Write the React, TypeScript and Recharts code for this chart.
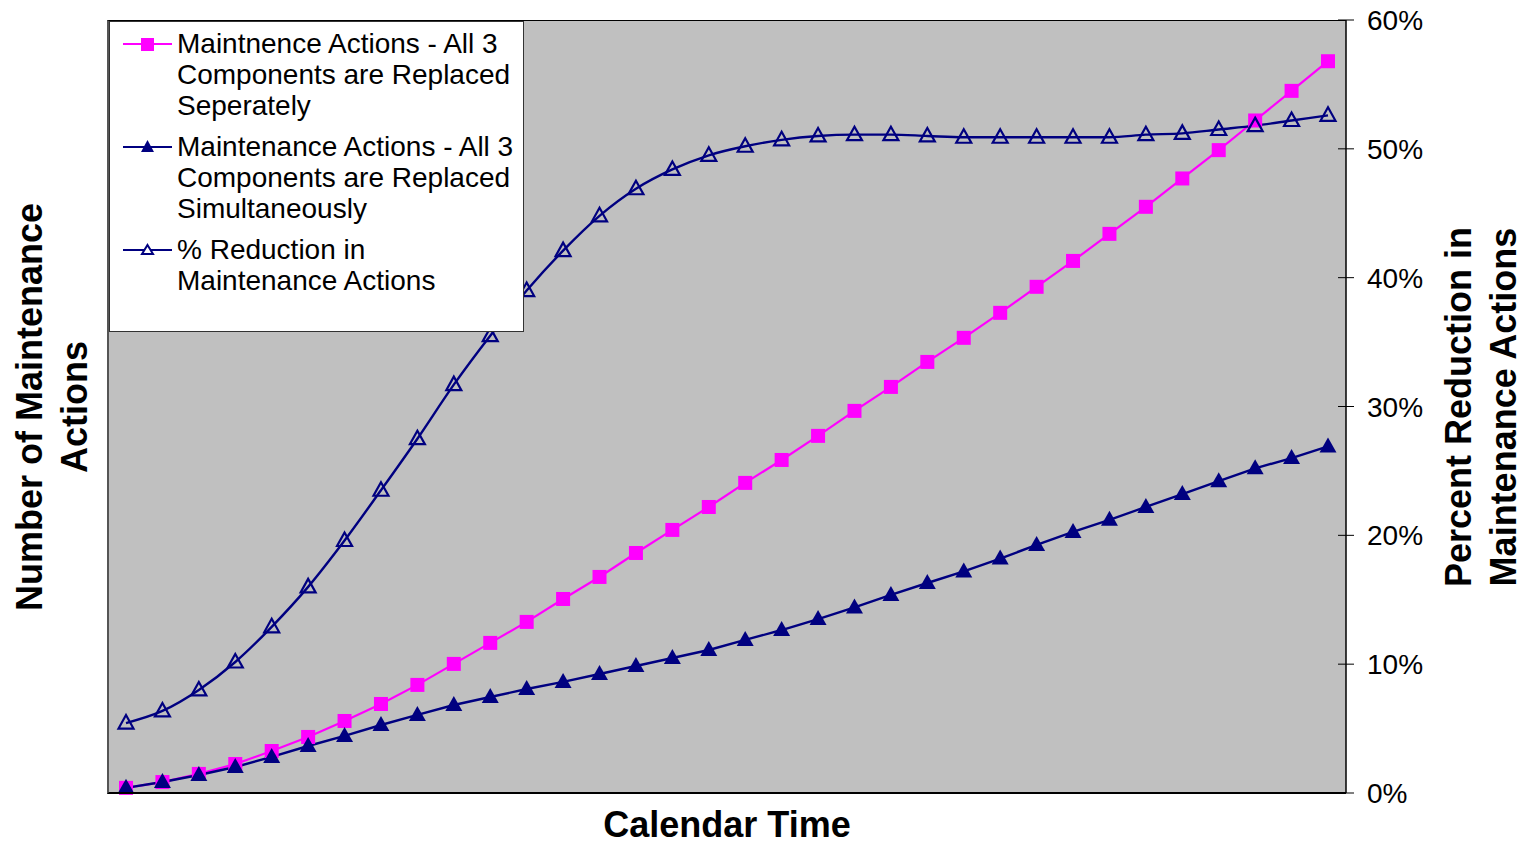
import React from "react";
import {
  CartesianGrid,
  Line,
  LineChart,
  XAxis,
  YAxis,
} from "recharts";

const periods: number[] = Array.from({ length: 34 }, (_, i) => i + 1);

const separateActions: number[] = [
  0.4, 0.85, 1.48, 2.25, 3.26, 4.35, 5.59, 6.91, 8.39, 10.02, 11.65, 13.28,
  15.06, 16.77, 18.63, 20.42, 22.2, 24.07, 25.85, 27.72, 29.66, 31.52, 33.46,
  35.33, 37.27, 39.29, 41.3, 43.4, 45.5, 47.7, 49.9, 52.2, 54.5, 56.8,
];

const simultaneousActions: number[] = [
  0.4, 0.85, 1.4, 2.02, 2.8, 3.65, 4.43, 5.28, 6.06, 6.83, 7.45, 8.07, 8.62,
  9.24, 9.86, 10.48, 11.1, 11.88, 12.65, 13.5, 14.4, 15.37, 16.3, 17.2, 18.2,
  19.25, 20.26, 21.2, 22.2, 23.2, 24.2, 25.2, 26.0, 26.9,
];

const pctReduction: number[] = [
  5.43, 6.37, 8.0, 10.17, 12.9, 16.0, 19.6, 23.5, 27.5, 31.7, 35.5, 39.0, 42.1,
  44.8, 46.9, 48.4, 49.5, 50.2, 50.7, 51.0, 51.1, 51.1, 51.0, 50.9, 50.9, 50.9,
  50.9, 50.9, 51.1, 51.2, 51.5, 51.8, 52.2, 52.6,
];

const pctTicks: number[] = [0, 10, 20, 30, 40, 50, 60];

const PINK = "#FF00FF";
const NAVY = "#000080";
const FONT = "'Liberation Sans', Arial, sans-serif";

const data = periods.map((p, i) => ({
  period: p,
  separate: separateActions[i],
  simultaneous: simultaneousActions[i],
  reduction: pctReduction[i],
}));

const SquareDot = (props: any) => {
  const { cx, cy, index } = props;
  if (cx == null || cy == null) return null;
  return <rect key={index} x={cx - 7} y={cy - 7} width={14} height={14} fill={PINK} />;
};

const FilledTriangle = (props: any) => {
  const { cx, cy, index } = props;
  if (cx == null || cy == null) return null;
  return (
    <polygon
      key={index}
      points={`${cx},${cy - 9} ${cx + 8.5},${cy + 6} ${cx - 8.5},${cy + 6}`}
      fill={NAVY}
    />
  );
};

const OpenTriangle = (props: any) => {
  const { cx, cy, index } = props;
  if (cx == null || cy == null) return null;
  return (
    <polygon
      key={index}
      points={`${cx},${cy - 8} ${cx + 7.5},${cy + 5.5} ${cx - 7.5},${cy + 5.5}`}
      fill="none"
      stroke={NAVY}
      strokeWidth={2.2}
    />
  );
};

const PctTick = (props: any) => {
  const { x, y, payload } = props;
  return (
    <g>
      <line x1={x - 8} x2={x + 8} y1={y} y2={y} stroke="#000" strokeWidth={1} />
      <text
        x={x + 21}
        y={y}
        dy={10}
        fontSize={28}
        fontFamily={FONT}
        fill="#000"
        textAnchor="start"
      >
        {`${payload.value}%`}
      </text>
    </g>
  );
};

const legendItems = [
  {
    lines: ["Maintnence Actions - All 3", "Components are Replaced", "Seperately"],
    color: PINK,
    marker: "square",
  },
  {
    lines: ["Maintenance Actions - All 3", "Components are Replaced", "Simultaneously"],
    color: NAVY,
    marker: "filled",
  },
  {
    lines: ["% Reduction in", "Maintenance Actions"],
    color: NAVY,
    marker: "open",
  },
];

const LegendBox = () => (
  <div
    style={{
      position: "absolute",
      left: 109,
      top: 21,
      width: 415,
      height: 311,
      background: "#fff",
      border: "1px solid #333",
      boxSizing: "border-box",
      fontFamily: FONT,
      fontSize: 28,
      lineHeight: "31px",
      color: "#000",
      paddingTop: 6,
    }}
  >
    {legendItems.map((item, i) => (
      <div key={i} style={{ display: "flex", marginBottom: 10 }}>
        <svg width={67} height={31} style={{ flexShrink: 0 }}>
          <line x1={13} x2={62} y1={16} y2={16} stroke={item.color} strokeWidth={2} />
          {item.marker === "square" && (
            <rect x={31} y={10} width={13} height={13} fill={item.color} />
          )}
          {item.marker === "filled" && (
            <polygon points="37.5,9 44,21 31,21" fill={item.color} />
          )}
          {item.marker === "open" && (
            <polygon points="37.5,11 43,20 32,20" fill="#fff" stroke={item.color} strokeWidth={2} />
          )}
        </svg>
        <div>
          {item.lines.map((l, j) => (
            <div key={j}>{l}</div>
          ))}
        </div>
      </div>
    ))}
  </div>
);

const titleStyle: React.CSSProperties = {
  position: "absolute",
  fontFamily: FONT,
  fontWeight: "bold",
  fontSize: 36,
  lineHeight: "45px",
  color: "#000",
  textAlign: "center",
  whiteSpace: "nowrap",
};

export default function App() {
  return (
    <div style={{ position: "absolute", left: 0, top: 0, width: 1522, height: 842, background: "#fff" }}>
      <LineChart
        width={1522}
        height={842}
        data={data}
        margin={{ top: 20, right: 100, bottom: 49, left: 108 }}
      >
        <CartesianGrid fill="#C0C0C0" stroke="none" horizontal={false} vertical={false} />
        <XAxis dataKey="period" hide padding={{ left: 18, right: 18 }} />
        <YAxis yAxisId="count" hide domain={[0, 60]} />
        <YAxis
          yAxisId="pct"
          orientation="right"
          domain={[0, 60]}
          ticks={pctTicks}
          interval={0}
          width={76}
          tickSize={0}
          tickMargin={0}
          tickLine={false}
          axisLine={{ stroke: "#000", strokeWidth: 1.5 }}
          tick={<PctTick />}
        />
        <Line
          yAxisId="count"
          type="linear"
          dataKey="separate"
          stroke={PINK}
          strokeWidth={2.2}
          dot={<SquareDot />}
          isAnimationActive={false}
        />
        <Line
          yAxisId="count"
          type="linear"
          dataKey="simultaneous"
          stroke={NAVY}
          strokeWidth={2.4}
          dot={<FilledTriangle />}
          isAnimationActive={false}
        />
        <Line
          yAxisId="pct"
          type="monotone"
          dataKey="reduction"
          stroke={NAVY}
          strokeWidth={2.4}
          dot={<OpenTriangle />}
          isAnimationActive={false}
        />
      </LineChart>
      <div
        style={{
          position: "absolute",
          left: 107,
          top: 20,
          width: 1239,
          height: 774,
          borderLeft: "2px solid #555",
          borderBottom: "2px solid #000",
          borderTop: "1px solid #000",
          boxSizing: "border-box",
          pointerEvents: "none",
        }}
      />
      <LegendBox />
      <div style={{ ...titleStyle, left: 108, width: 1238, top: 802 }}>Calendar Time</div>
      <div
        style={{
          ...titleStyle,
          left: 52,
          top: 407,
          width: 600,
          transform: "translate(-50%, -50%) rotate(-90deg)",
        }}
      >
        Number of Maintenance
        <br />
        Actions
      </div>
      <div
        style={{
          ...titleStyle,
          left: 1481,
          top: 407,
          width: 600,
          transform: "translate(-50%, -50%) rotate(-90deg)",
        }}
      >
        Percent Reduction in
        <br />
        Maintenance Actions
      </div>
    </div>
  );
}
